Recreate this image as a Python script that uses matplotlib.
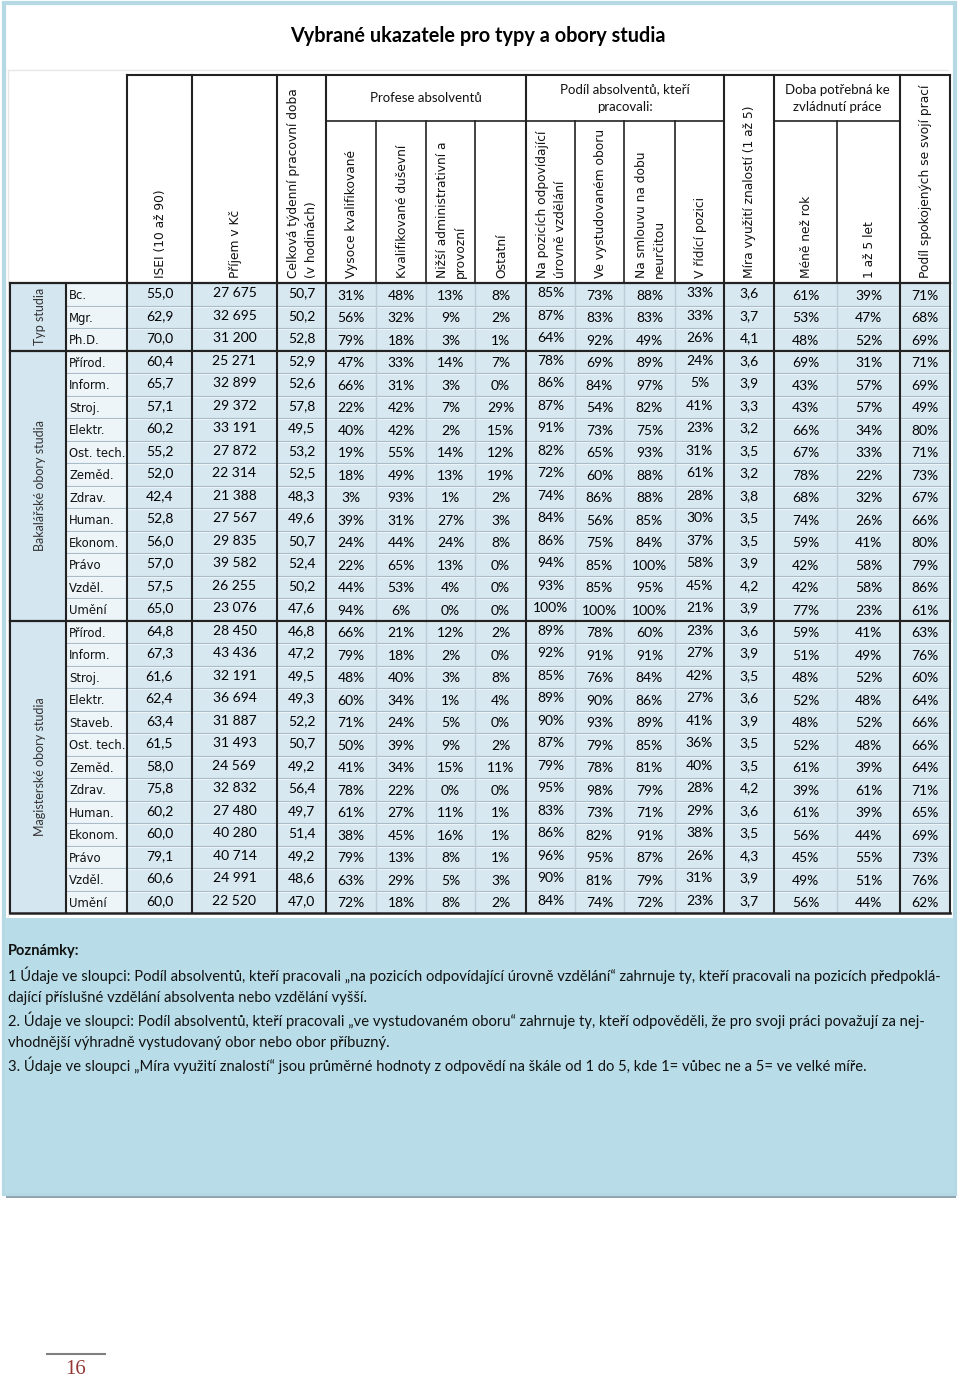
import matplotlib
matplotlib.use("Agg")
import matplotlib.pyplot as plt
from matplotlib import font_manager
from matplotlib.patches import Rectangle


def pick(*names):
    for n in names:
        try:
            font_manager.findfont(n, fallback_to_default=False)
            return n
        except ValueError:
            pass
    return "DejaVu Sans"


NARROW = pick("Liberation Sans Narrow", "Lato")
NUM = pick("Lato", "Open Sans")
WIDE = "DejaVu Sans"
SERIF = pick("Liberation Serif", "DejaVu Serif")

title = "Vybrané ukazatele pro typy a obory studia"

groups = ["Typ studia", "Bakalářské obory studia", "Magisterské obory studia"]
typ_rows = ["Bc.", "Mgr.", "Ph.D."]
bc_rows = ["Přírod.", "Inform.", "Stroj.", "Elektr.", "Ost. tech.", "Zeměd.", "Zdrav.",
           "Human.", "Ekonom.", "Právo", "Vzděl.", "Umění"]
mgr_rows = ["Přírod.", "Inform.", "Stroj.", "Elektr.", "Staveb.", "Ost. tech.", "Zeměd.",
            "Zdrav.", "Human.", "Ekonom.", "Právo", "Vzděl.", "Umění"]

col_headers = ["ISEI (10 až 90)", "Příjem v Kč",
               "Celková týdenní pracovní doba\n(v hodinách)",
               "Vysoce kvalifikované", "Kvalifikované duševní",
               "Nižší administrativní a\nprovozní", "Ostatní",
               "Na pozicích odpovídající\núrovně vzdělání", "Ve vystudovaném oboru",
               "Na smlouvu na dobu\nneurčitou", "V řídící pozici",
               "Míra využití znalostí (1 až 5)", "Méně než rok", "1 až 5 let",
               "Podíl spokojených se svojí prací"]
group_headers = ["Profese absolventů", "Podíl absolventů, kteří\npracovali:",
                 "Doba potřebná ke\nzvládnutí práce"]

# values: typ studia (3) + bakalářské (12) + magisterské (13)
isei = [55.0, 62.9, 70.0,
        60.4, 65.7, 57.1, 60.2, 55.2, 52.0, 42.4, 52.8, 56.0, 57.0, 57.5, 65.0,
        64.8, 67.3, 61.6, 62.4, 63.4, 61.5, 58.0, 75.8, 60.2, 60.0, 79.1, 60.6, 60.0]
prijem = [27675, 32695, 31200,
          25271, 32899, 29372, 33191, 27872, 22314, 21388, 27567, 29835, 39582, 26255, 23076,
          28450, 43436, 32191, 36694, 31887, 31493, 24569, 32832, 27480, 40280, 40714, 24991, 22520]
doba = [50.7, 50.2, 52.8,
        52.9, 52.6, 57.8, 49.5, 53.2, 52.5, 48.3, 49.6, 50.7, 52.4, 50.2, 47.6,
        46.8, 47.2, 49.5, 49.3, 52.2, 50.7, 49.2, 56.4, 49.7, 51.4, 49.2, 48.6, 47.0]
vysoce = [31, 56, 79,
          47, 66, 22, 40, 19, 18, 3, 39, 24, 22, 44, 94,
          66, 79, 48, 60, 71, 50, 41, 78, 61, 38, 79, 63, 72]
kvalif = [48, 32, 18,
          33, 31, 42, 42, 55, 49, 93, 31, 44, 65, 53, 6,
          21, 18, 40, 34, 24, 39, 34, 22, 27, 45, 13, 29, 18]
nizsi = [13, 9, 3,
         14, 3, 7, 2, 14, 13, 1, 27, 24, 13, 4, 0,
         12, 2, 3, 1, 5, 9, 15, 0, 11, 16, 8, 5, 8]
ostatni = [8, 2, 1,
           7, 0, 29, 15, 12, 19, 2, 3, 8, 0, 0, 0,
           2, 0, 8, 4, 0, 2, 11, 0, 1, 1, 1, 3, 2]
na_pozicich = [85, 87, 64,
               78, 86, 87, 91, 82, 72, 74, 84, 86, 94, 93, 100,
               89, 92, 85, 89, 90, 87, 79, 95, 83, 86, 96, 90, 84]
ve_oboru = [73, 83, 92,
            69, 84, 54, 73, 65, 60, 86, 56, 75, 85, 85, 100,
            78, 91, 76, 90, 93, 79, 78, 98, 73, 82, 95, 81, 74]
smlouva = [88, 83, 49,
           89, 97, 82, 75, 93, 88, 88, 85, 84, 100, 95, 100,
           60, 91, 84, 86, 89, 85, 81, 79, 71, 91, 87, 79, 72]
ridici = [33, 33, 26,
          24, 5, 41, 23, 31, 61, 28, 30, 37, 58, 45, 21,
          23, 27, 42, 27, 41, 36, 40, 28, 29, 38, 26, 31, 23]
mira = [3.6, 3.7, 4.1,
        3.6, 3.9, 3.3, 3.2, 3.5, 3.2, 3.8, 3.5, 3.5, 3.9, 4.2, 3.9,
        3.6, 3.9, 3.5, 3.6, 3.9, 3.5, 3.5, 4.2, 3.6, 3.5, 4.3, 3.9, 3.7]
mene_rok = [61, 53, 48,
            69, 43, 43, 66, 67, 78, 68, 74, 59, 42, 42, 77,
            59, 51, 48, 52, 48, 52, 61, 39, 61, 56, 45, 49, 56]
rok_1_5 = [39, 47, 52,
           31, 57, 57, 34, 33, 22, 32, 26, 41, 58, 58, 23,
           41, 49, 52, 48, 52, 48, 39, 61, 39, 44, 55, 51, 44]
spokojeni = [71, 68, 69,
             71, 69, 49, 80, 71, 73, 67, 66, 80, 79, 86, 61,
             63, 76, 60, 64, 66, 66, 64, 71, 65, 69, 73, 76, 62]

notes_title = "Poznámky:"
notes = [
    "1 Údaje ve sloupci: Podíl absolventů, kteří pracovali „na pozicích odpovídající úrovně vzdělání“ zahrnuje ty, kteří pracovali na pozicích předpoklá-",
    "dající příslušné vzdělání absolventa nebo vzdělání vyšší.",
    "2. Údaje ve sloupci: Podíl absolventů, kteří pracovali „ve vystudovaném oboru“ zahrnuje ty, kteří odpověděli, že pro svoji práci považují za nej-",
    "vhodnější výhradně vystudovaný obor nebo obor příbuzný.",
    "3. Údaje ve sloupci „Míra využití znalostí“ jsou průměrné hodnoty z odpovědí na škále od 1 do 5, kde 1= vůbec ne a 5= ve velké míře.",
]
page_no = "16"


def dec(v):
    return f"{v:.1f}".replace(".", ",")


def money(v):
    return f"{v:,}".replace(",", " ")


def pct(v):
    return f"{v}%"


columns = [(isei, dec), (prijem, money), (doba, dec),
           (vysoce, pct), (kvalif, pct), (nizsi, pct), (ostatni, pct),
           (na_pozicich, pct), (ve_oboru, pct), (smlouva, pct), (ridici, pct),
           (mira, dec), (mene_rok, pct), (rok_1_5, pct), (spokojeni, pct)]

# layout (pixels)
xs = [127, 192, 277, 326, 376, 426, 475, 526, 575, 624, 675, 724, 774, 837, 900, 950]
thick_x = [127, 192, 277, 326, 526, 724, 774, 900, 950]
x_group, x_label = 10, 66
head_top, sub_y, head_bot = 75, 121, 283
row_h = 22.5
dy = [-1, -1, -1, 1.5, 1.5, 1.5, 1.5, -1, 1.5, 1.5, -1, -1, 1.5, 1.5, 1.5]

fig = plt.figure(figsize=(9.6, 13.82), dpi=100)
ax = fig.add_axes([0, 0, 1, 1])
ax.set_xlim(0, 960)
ax.set_ylim(1382, 0)
ax.axis("off")

# page frame and notes box
ax.add_patch(Rectangle((6, 1190), 950, 8, facecolor="#8fa3ad", edgecolor="none"))
ax.add_patch(Rectangle((4, 3), 951, 1191, facecolor="white", edgecolor="#b4d9e5", lw=3))
ax.add_patch(Rectangle((5, 918), 949, 275, facecolor="#b8dde8", edgecolor="none"))
ax.plot([8, 948], [70, 70], color="#e6e6e6", lw=1)
ax.plot([8, 8], [70, 916], color="#e6e6e6", lw=1)

ax.text(478, 36, title, ha="center", va="center", fontsize=14.3, fontweight="bold",
        family=[NARROW, "DejaVu Sans"])

# header
for i, txt in enumerate(col_headers):
    cx = (xs[i] + xs[i + 1]) / 2
    ax.text(cx + 1, head_bot - 5, txt, rotation=90, rotation_mode="anchor",
            ha="left", va="center", multialignment="left", fontsize=8.8,
            family=WIDE, color="#111111", linespacing=1.55)

group_spans = [(326, 526), (526, 724), (774, 900)]
for (a, b), txt in zip(group_spans, group_headers):
    ax.text((a + b) / 2, (head_top + sub_y) / 2, txt, ha="center", va="center",
            fontsize=9.5, family=NUM, color="#111111", linespacing=1.5)

# table body
n_rows = len(isei)
body_top = head_bot
body_bot = head_bot + n_rows * row_h
sections = [(groups[0], typ_rows), (groups[1], bc_rows), (groups[2], mgr_rows)]

ax.add_patch(Rectangle((xs[0], body_top), xs[-1] - xs[0], body_bot - body_top,
                       facecolor="#d8e8f1", edgecolor="none"))
ax.add_patch(Rectangle((x_label, body_top), xs[0] - x_label, body_bot - body_top,
                       facecolor="#edf5f9", edgecolor="none"))
ax.add_patch(Rectangle((x_group, body_top), x_label - x_group, body_bot - body_top,
                       facecolor="#d4e6f0", edgecolor="none"))

for r in range(1, n_rows):
    y = body_top + r * row_h
    ax.plot([x_label, xs[-1]], [y, y], color="#a9bcc7", lw=0.8)
    ax.plot([x_label, xs[-1]], [y + 1, y + 1], color="#f2f7fa", lw=0.6)
for x in xs[1:-1]:
    if x not in thick_x:
        ax.plot([x, x], [body_top, body_bot], color="#bccdd7", lw=1)
        ax.plot([x, x], [sub_y, head_bot], color="#222222", lw=1.2)

# header grid
ax.plot([xs[0], xs[-1]], [head_top, head_top], color="#222222", lw=1.5)
ax.plot([326, 724], [sub_y, sub_y], color="#222222", lw=1.2)
ax.plot([774, 900], [sub_y, sub_y], color="#222222", lw=1.2)
for x in thick_x:
    ax.plot([x, x], [head_top, body_bot], color="#222222", lw=1.5)
ax.plot([x_group, x_group], [head_bot, body_bot], color="#222222", lw=1.5)
ax.plot([x_label, x_label], [head_bot, body_bot], color="#222222", lw=1.5)

row = 0
for gname, labels in sections:
    top = body_top + row * row_h
    ax.plot([x_group, xs[-1]], [top, top], color="#222222", lw=1.6)
    ax.text((x_group + x_label) / 2 + 2, top + len(labels) * row_h / 2, gname,
            rotation=90, ha="center", va="center", fontsize=9, family=NUM, color="#333333")
    for lab in labels:
        yc = body_top + (row + 0.5) * row_h
        ax.text(x_label + 3, yc + 1.5, lab, ha="left", va="center", fontsize=8.4,
                family=WIDE, color="#111111")
        row += 1
ax.plot([x_group, xs[-1]], [body_bot, body_bot], color="#222222", lw=1.8)

for c, (vals, fmt) in enumerate(columns):
    cx = (xs[c] + xs[c + 1]) / 2
    for r, v in enumerate(vals):
        yc = body_top + (r + 0.5) * row_h + dy[c]
        ax.text(cx, yc, fmt(v), ha="center", va="center", fontsize=10,
                family=NUM, color="#000000")

# notes
ax.text(8, 951, notes_title, ha="left", va="center", fontsize=10.5, fontweight="bold",
        family=[NARROW, "DejaVu Sans"], color="#111111")
for i, line in enumerate(notes):
    ax.text(8, 975 + i * 22.5, line, ha="left", va="center", fontsize=10.6,
            family=[NARROW, "DejaVu Sans"], color="#111111")

# page number
ax.plot([47, 105], [1354, 1354], color="#7f7f7f", lw=1.5)
ax.text(76, 1370, page_no, ha="center", va="center", fontsize=15, family=SERIF,
        color="#943634")

fig.savefig("out.png", dpi=100)
